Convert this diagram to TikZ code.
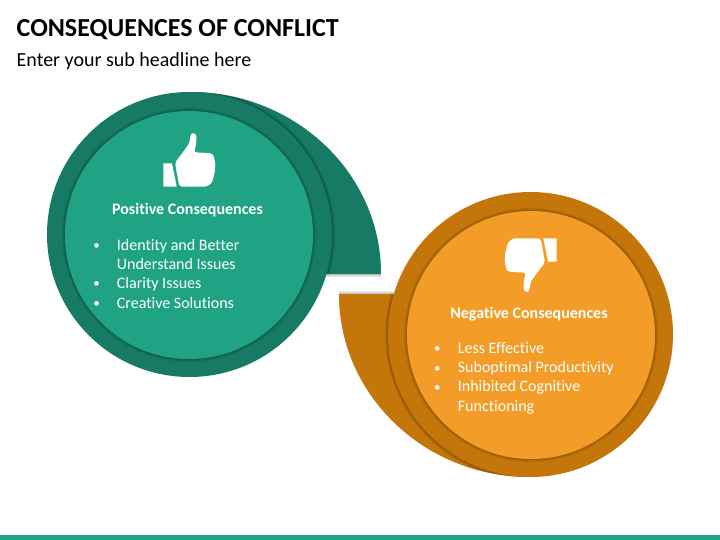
\documentclass[tikz,border=0pt]{standalone}
\usepackage{fontspec}
\setmainfont[Ligatures=NoCommon]{Carlito}
\definecolor{tealdark}{HTML}{167A64}
\definecolor{teallight}{HTML}{20A384}
\definecolor{orangedark}{HTML}{C4760A}
\definecolor{orangelight}{HTML}{F39C27}
\tikzset{
    outerdisc/.style={circle,inner sep=0pt,minimum size=285pt},
    innerdisc/.style={circle,inner sep=0pt,minimum size=248pt},
    heading/.style={text=white,inner sep=0pt,font=\fontsize{16}{19}\selectfont\bfseries,anchor=base},
    listtext/.style={text=white,inner sep=0pt,font=\fontsize{16}{19}\selectfont,anchor=base west},
    listdot/.style={text=white,inner sep=0pt,font=\fontsize{13}{16}\selectfont,anchor=base},
    thumb/.pic={
        \fill[white] (-26.7,-3.3)--(-18,-3.3)--(-13.3,-26.7)--(-26.7,-26.7)--cycle;
        \fill[white,rounded corners=2pt] (-10.7,-26.7)--(-15,-2.7)--(-6.7,8.3)--(-0.7,16.7)--(0.7,26)
            --(3.3,27.7)--(6.7,25)--(6,15)--(4.3,7.7)--(21.7,6.7)--(24.3,4)--(24,0)--(25.7,-3.3)
            --(24.8,-8.3)--(25,-13.3)--(23.2,-16.7)--(22.8,-21.7)--(17,-26.7)--cycle;
    }
}
\begin{document}
\begin{tikzpicture}[x=1pt,y=1pt]
\useasboundingbox (0,-540) rectangle (720,0);
\node[anchor=base west,inner sep=0pt,font=\fontsize{26}{30}\selectfont\bfseries] (title) at (16.5,-36.5) {CONSEQUENCES OF CONFLICT};
\node[anchor=base west,inner sep=0pt,font=\fontsize{20}{24}\selectfont] (subtitle) at (16.5,-67) {Enter your sub headline here};
\fill[teallight] (0,-540) rectangle (720,-535);
% tails
\coordinate (posc) at (189.5,-234.5);
\coordinate (negc) at (530.5,-334.5);
\foreach \d in {1,2,3}
{
    \fill[black,opacity=.08] (190,-92) arc[start angle=90,end angle=0,x radius=191,y radius=182] --++(0,-\d)--(190,-274-\d)--cycle;
    \fill[black,opacity=.08] (530,-477) arc[start angle=270,end angle=180,x radius=191,y radius=183] --++(0,\d)--(530,-294+\d)--cycle;
}
\fill[tealdark] (190,-92) arc[start angle=90,end angle=0,x radius=191,y radius=182] --(190,-274)--cycle;
\fill[orangedark] (530,-477) arc[start angle=270,end angle=180,x radius=191,y radius=183] --(530,-294)--cycle;
% soft edges, on the tails only
\begin{scope}
\clip (190,-92) arc[start angle=90,end angle=0,x radius=191,y radius=182] --(190,-274)--cycle;
\foreach \d in {1,2,3}
{
    \fill[black,opacity=.09] (posc) circle (142.5+\d);
}
\end{scope}
\begin{scope}
\clip (530,-477) arc[start angle=270,end angle=180,x radius=191,y radius=183] --(530,-294)--cycle;
\foreach \d in {1,2,3}
{
    \fill[black,opacity=.09] (negc) circle (142.5+\d);
}
\end{scope}
\node[outerdisc,fill=tealdark] (posouter) at (posc) {};
\node[outerdisc,fill=orangedark] (negouter) at (negc) {};
\foreach \d in {1,2,3}
{
    \fill[black,opacity=.07] (189,-235) circle (124+\d);
    \fill[black,opacity=.07] (531,-335) circle (124+\d);
}
\node[innerdisc,fill=teallight] (posinner) at (189,-235) {};
\node[innerdisc,fill=orangelight] (neginner) at (531,-335) {};
\pic at (190,-160) {thumb};
\pic[rotate=180] at (530,-265) {thumb};
\node[heading] (poshead) at (187.5,-214.7) {Positive Consequences};
\node[heading] (neghead) at (529,-318.7) {Negative Consequences};
\foreach \n/\y/\ytext in {a/250.3/Identity and Better,b/269/Understand Issues,c/288/Clarity Issues,d/308/Creative Solutions}
{
    \node[listtext] (pos\n) at (116.7,-\y) {\ytext};
}
\foreach \n/\y/\ytext in {a/353.3/Less Effective,b/372.5/Suboptimal Productivity,c/391.5/Inhibited Cognitive,d/411/Functioning}
{
    \node[listtext] (neg\n) at (457.7,-\y) {\ytext};
}
\foreach \n/\y in {a/249.5,c/287.5,d/307.5}
{
    \node[listdot] (posdot\n) at (96.7,-\y) {•};
}
\foreach \n/\y in {a/352.5,b/372,c/391}
{
    \node[listdot] (negdot\n) at (437.3,-\y) {•};
}
\end{tikzpicture}
\end{document}
